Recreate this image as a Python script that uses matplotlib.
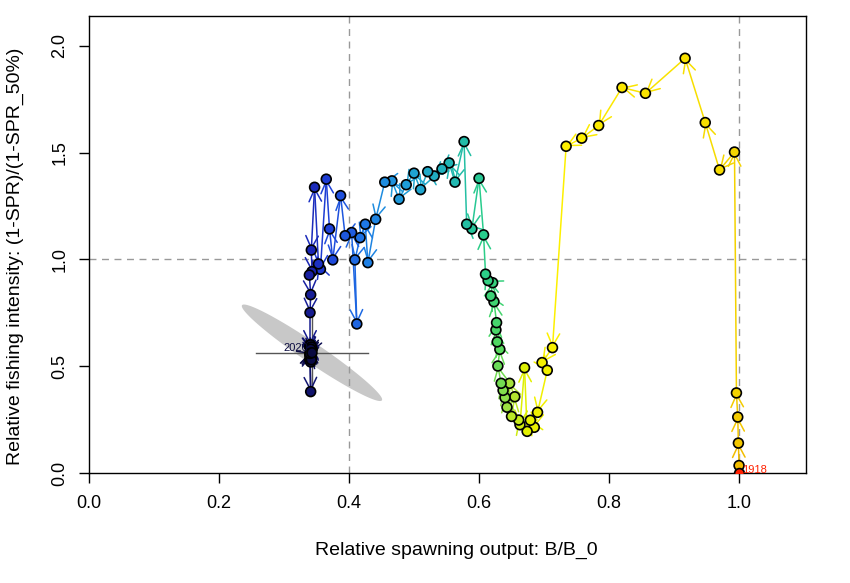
import numpy as np
import matplotlib
matplotlib.use("Agg")
import matplotlib.pyplot as plt
from matplotlib.colors import LinearSegmentedColormap
from matplotlib.patches import FancyArrowPatch, Polygon

plt.rcParams["font.family"] = ["Liberation Sans", "DejaVu Sans"]

# ---- data ----
years = np.arange(1918, 2021)
bratio = [1.000, 1.000, 0.999, 0.998, 0.996, 0.993, 0.970, 0.948, 0.917, 0.856,
          0.820, 0.784, 0.758, 0.734, 0.713, 0.697, 0.705, 0.690, 0.685, 0.679,
          0.674, 0.670, 0.663, 0.661, 0.650, 0.655, 0.647, 0.643, 0.640, 0.637,
          0.634, 0.629, 0.632, 0.628, 0.626, 0.627, 0.623, 0.618, 0.621, 0.614,
          0.610, 0.607, 0.600, 0.589, 0.581, 0.577, 0.563, 0.554, 0.543, 0.531,
          0.521, 0.510, 0.500, 0.488, 0.477, 0.466, 0.455, 0.441, 0.429, 0.425,
          0.417, 0.409, 0.412, 0.404, 0.394, 0.387, 0.375, 0.370, 0.365, 0.356,
          0.353, 0.347, 0.342, 0.343, 0.339, 0.341, 0.340, 0.340, 0.341, 0.340,
          0.341, 0.340, 0.341, 0.342, 0.340, 0.341, 0.343, 0.340, 0.342, 0.341,
          0.340, 0.342, 0.341, 0.343, 0.340, 0.341, 0.342, 0.340, 0.341, 0.342,
          0.341, 0.340, 0.343]
spr_ratio = [0.000, 0.035, 0.140, 0.262, 0.375, 1.503, 1.419, 1.641, 1.942, 1.778,
             1.805, 1.627, 1.568, 1.530, 0.587, 0.517, 0.481, 0.284, 0.214, 0.247,
             0.195, 0.493, 0.226, 0.248, 0.265, 0.357, 0.420, 0.308, 0.353, 0.387,
             0.420, 0.501, 0.579, 0.614, 0.670, 0.704, 0.802, 0.829, 0.891, 0.901,
             0.931, 1.115, 1.380, 1.143, 1.165, 1.552, 1.362, 1.452, 1.424, 1.391,
             1.411, 1.327, 1.404, 1.350, 1.282, 1.368, 1.362, 1.188, 0.985, 1.165,
             1.102, 0.998, 0.698, 1.126, 1.111, 1.299, 0.998, 1.143, 1.376, 0.954,
             0.979, 1.338, 1.044, 0.943, 0.927, 0.835, 0.751, 0.600, 0.568, 0.532,
             0.381, 0.590, 0.570, 0.550, 0.590, 0.540, 0.580, 0.530, 0.560, 0.600,
             0.550, 0.570, 0.520, 0.580, 0.560, 0.540, 0.590, 0.550, 0.570, 0.530,
             0.580, 0.560, 0.563]

# final-year uncertainty
sd_bratio = 0.0441
sd_spr = 0.0923
rho = -0.969

colvec_anchors = [(0.00, "#FF2000"), (0.008, "#F2C000"), (0.05, "#F5D800"),
                  (0.12, "#FFF000"), (0.20, "#E0F000"), (0.26, "#A0E040"),
                  (0.32, "#50D860"), (0.40, "#28CC8C"), (0.45, "#22B8B0"),
                  (0.52, "#1E9ED8"), (0.58, "#1E78E6"), (0.66, "#1E40D8"),
                  (0.71, "#1A24B0"), (0.78, "#12146E"), (1.00, "#0A0A40")]
cmap = LinearSegmentedColormap.from_list("yrs", colvec_anchors)

x = np.array(bratio)
y = np.array(spr_ratio)
n = len(x)
cols = [cmap(i / (n - 1)) for i in range(n)]

fig = plt.figure(figsize=(8.5, 5.83), dpi=100)
ax = fig.add_axes([89/850, 1 - 473/583, (806-89)/850, (473-16)/583])
ax.set_xlim(0, 1.103)
ax.set_ylim(0, 2.14)

# 95% ellipse around final year
cov = np.array([[sd_bratio**2, rho*sd_bratio*sd_spr],
                [rho*sd_bratio*sd_spr, sd_spr**2]])
w, v = np.linalg.eigh(cov)
t = np.linspace(0, 2*np.pi, 200)
circ = np.vstack([np.cos(t), np.sin(t)]) * np.sqrt(5.991 * w)[:, None]
ell = (v @ circ).T + np.array([x[-1], y[-1]])
ax.add_patch(Polygon(ell, closed=True, fc="#c8c8c8", ec="none", zorder=1))

ax.axvline(0.4, color="#999999", lw=1, ls=(0, (5, 4)), zorder=2)
ax.axvline(1.0, color="#999999", lw=1, ls=(0, (5, 4)), zorder=2)
ax.axhline(1.0, color="#999999", lw=1, ls=(0, (5, 4)), zorder=2)

ax.plot([x[-1] - 1.96*sd_bratio, x[-1] + 1.96*sd_bratio], [y[-1], y[-1]],
        color="#555555", lw=1, zorder=2)
ax.plot([x[-1], x[-1]], [y[-1] - 1.96*sd_spr, y[-1] + 1.96*sd_spr],
        color="#555555", lw=1, zorder=2)

for i in range(n - 1):
    ar = FancyArrowPatch((x[i], y[i]), (x[i+1], y[i+1]),
                         arrowstyle="->,head_length=0.9,head_width=0.45",
                         mutation_scale=10, color=cols[i], lw=1.1,
                         shrinkA=0, shrinkB=0, zorder=3)
    ax.add_patch(ar)

ax.scatter(x[1:], y[1:], s=50, c=cols[1:], edgecolors="black", linewidths=1.2, zorder=4)
ax.scatter(x[:1], y[:1], s=50, c=cols[:1], edgecolors="black", linewidths=1.2, zorder=4.5)

ax.text(x[0] + 0.004, y[0] + 0.012, str(years[0]), color=cols[0], fontsize=8,
        ha="left", va="center", zorder=5)
ax.text(x[-1] - 0.006, y[-1] + 0.02, str(years[-1]), color=cols[-1], fontsize=8,
        ha="right", va="center", zorder=5)

ax.set_xticks([0.0, 0.2, 0.4, 0.6, 0.8, 1.0])
ax.set_yticks([0.0, 0.5, 1.0, 1.5, 2.0])
ax.set_xticklabels(["0.0", "0.2", "0.4", "0.6", "0.8", "1.0"])
ax.set_yticklabels(["0.0", "0.5", "1.0", "1.5", "2.0"], rotation=90, va="center")
ax.tick_params(axis="both", direction="out", length=7, width=1, labelsize=13)
ax.tick_params(axis="x", pad=9)
ax.tick_params(axis="y", pad=8)
for s in ax.spines.values():
    s.set_linewidth(1)

ax.set_xlabel("Relative spawning output: B/B_0", fontsize=14, va="center")
ax.set_ylabel("Relative fishing intensity: (1-SPR)/(1-SPR_50%)", fontsize=14,
              va="center", ha="center")
ax.xaxis.set_label_coords((456 - 89) / 717, -(550 - 473) / 457)
ax.yaxis.set_label_coords(-(89 - 15) / 717, 0.475)

fig.savefig("out.png", dpi=100)
